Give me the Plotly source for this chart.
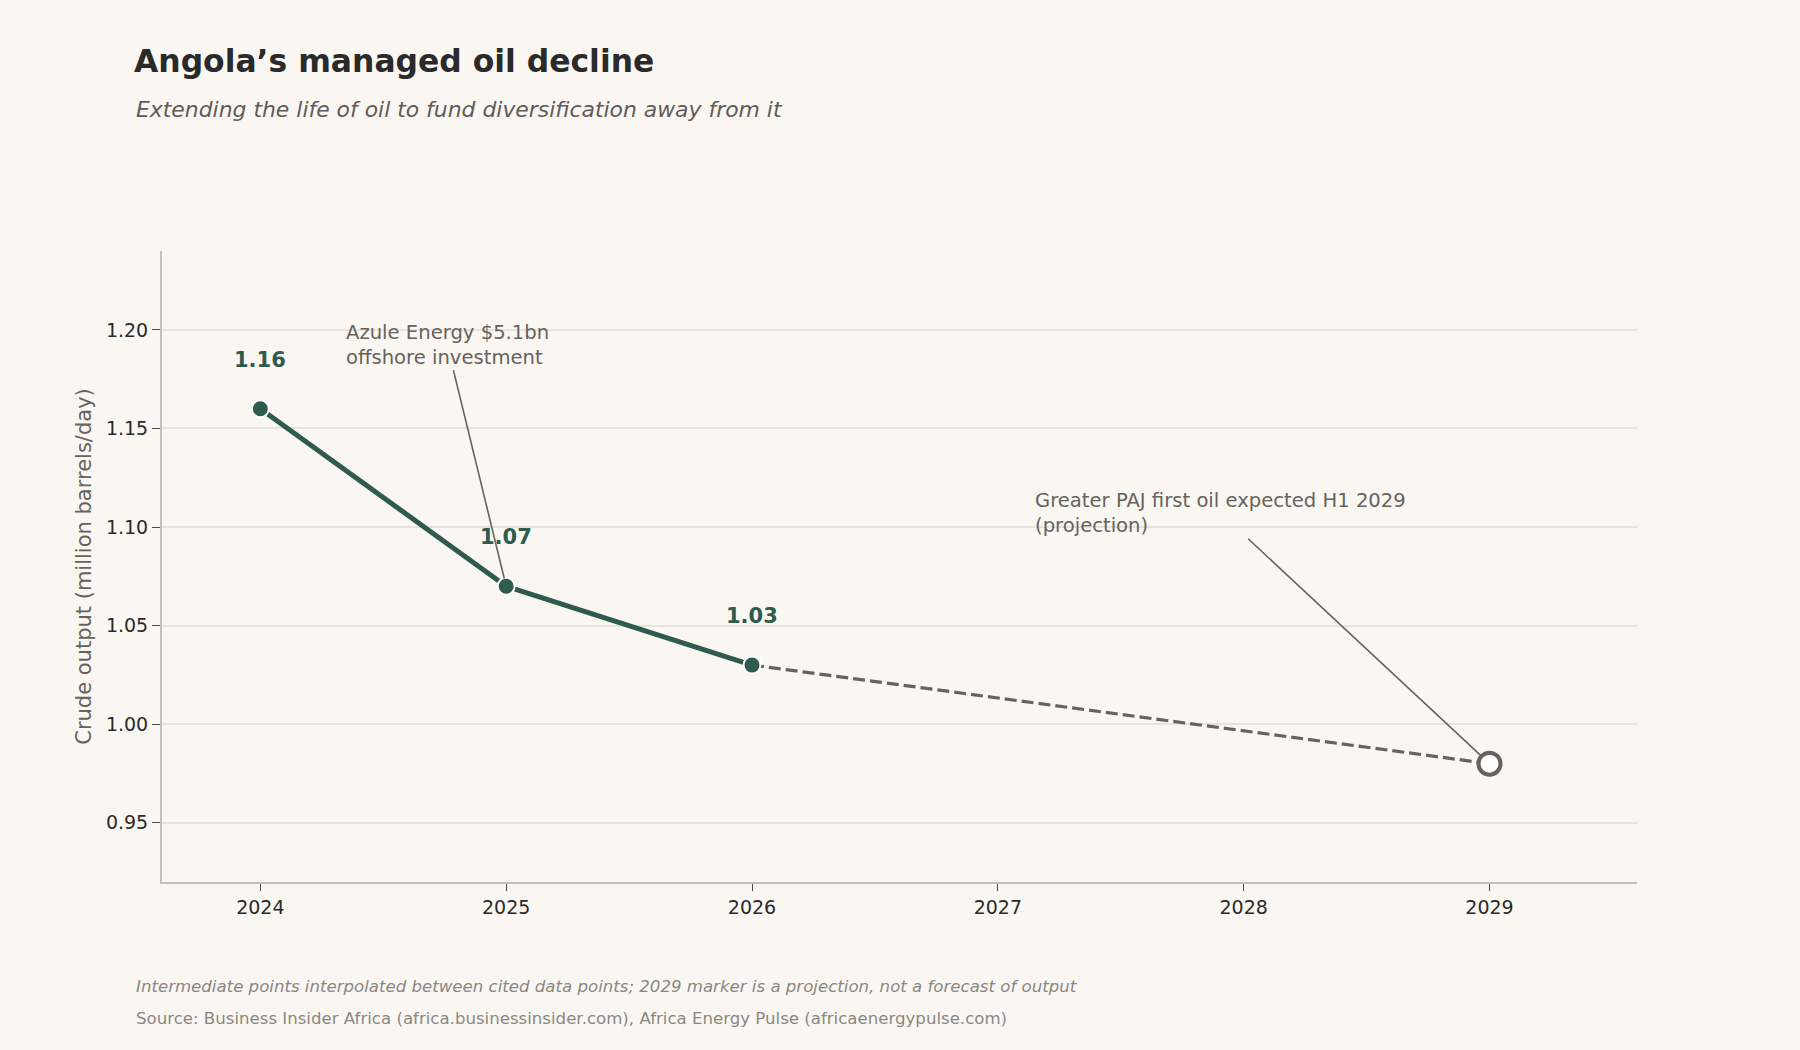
import plotly.graph_objects as go

# Data
years_actual = [2024, 2025, 2026]
output_actual = [1.16, 1.07, 1.03]
years_proj = [2026, 2029]
output_proj = [1.03, 0.98]
label_text = ["1.16", "1.07", "1.03"]

BG = "#faf7f3"
GREEN = "#2e5b4e"
GREY = "#66635d"
FONT = "DejaVu Sans"

fig = go.Figure()

# projection (dashed)
fig.add_trace(go.Scatter(x=years_proj, y=output_proj, mode="lines",
                         line=dict(color=GREY, width=3.2, dash="12px,5px"),
                         hoverinfo="skip", showlegend=False))
# actual line
fig.add_trace(go.Scatter(x=years_actual, y=output_actual, mode="lines+markers",
                         line=dict(color=GREEN, width=5),
                         marker=dict(size=17, color=GREEN, line=dict(color="white", width=2)),
                         showlegend=False))
# 2029 marker
fig.add_trace(go.Scatter(x=years_proj[1:], y=output_proj[1:], mode="markers",
                         marker=dict(size=22, color="white", line=dict(color=GREY, width=4)),
                         showlegend=False))

# value labels
for x, y, t in zip(years_actual, output_actual, label_text):
    fig.add_annotation(x=x, y=y, text="<b>%s</b>" % t, showarrow=False, yshift=49,
                       font=dict(family=FONT, size=21, color=GREEN))

# callouts
fig.add_annotation(x=2025, y=1.07, ax=2024.76, ay=1.1925, axref="x", ayref="y",
                   text="Azule Energy $5.1bn<br>offshore investment", align="left",
                   showarrow=True, arrowhead=0, arrowwidth=1.6, arrowcolor=GREY, standoff=8,
                   font=dict(family=FONT, size=19.6, color=GREY))
fig.add_annotation(x=2029, y=0.98, ax=2027.907, ay=1.107, axref="x", ayref="y",
                   text="Greater PAJ first oil expected H1 2029<br>(projection)", align="left",
                   showarrow=True, arrowhead=0, arrowwidth=1.6, arrowcolor=GREY, standoff=11,
                   font=dict(family=FONT, size=19.6, color=GREY))

# subtitle + footnotes
fig.add_annotation(xref="paper", yref="paper", x=-0.019, y=1.225, xanchor="left", yanchor="middle",
                   text="<i>Extending the life of oil to fund diversification away from it</i>",
                   showarrow=False, font=dict(family=FONT, size=21.9, color="#5f5c58"))
fig.add_annotation(xref="paper", yref="paper", x=-0.019, y=-0.166, xanchor="left", yanchor="middle",
                   text="<i>Intermediate points interpolated between cited data points; 2029 marker is a projection, not a forecast of output</i>",
                   showarrow=False, font=dict(family=FONT, size=16.6, color="#8a8783"))
fig.add_annotation(xref="paper", yref="paper", x=-0.019, y=-0.216, xanchor="left", yanchor="middle",
                   text="Source: Business Insider Africa (africa.businessinsider.com), Africa Energy Pulse (africaenergypulse.com)",
                   showarrow=False, font=dict(family=FONT, size=16.6, color="#8a8783"))

fig.update_layout(
    width=1800, height=1050,
    paper_bgcolor=BG, plot_bgcolor=BG,
    margin=dict(l=162, r=163, t=251, b=168),
    title=dict(text="<b>Angola’s managed oil decline</b>", x=134 / 1800, xanchor="left",
               y=1 - 61 / 1050, yanchor="middle", font=dict(family=FONT, size=31.4, color="#2a2a2a")),
    font=dict(family=FONT, color="#2a2a2a"),
    xaxis=dict(range=[2023.6, 2029.6], tickvals=[2024, 2025, 2026, 2027, 2028, 2029],
               showgrid=False, zeroline=False, showline=True, linecolor="#c4c0ba", linewidth=2,
               ticks="outside", ticklen=7, tickcolor="#4a4a4a", tickwidth=1.2,
               tickfont=dict(family=FONT, size=19, color="#2a2a2a")),
    yaxis=dict(range=[0.92, 1.24], tickvals=[0.95, 1.0, 1.05, 1.1, 1.15, 1.2], tickformat=".2f",
               showgrid=True, gridcolor="#e6e2dc", gridwidth=1.5, zeroline=False,
               showline=True, linecolor="#c4c0ba", linewidth=2,
               ticks="outside", ticklen=8, tickcolor="#4a4a4a", tickwidth=1.2,
               tickfont=dict(family=FONT, size=19, color="#2a2a2a"),
               title=dict(text="Crude output (million barrels/day)", standoff=9,
                          font=dict(family=FONT, size=21, color="#66635d"))),
)

fig.write_html("out.html", config={"displayModeBar": False},
               post_script="document.body.style.margin='0';")
